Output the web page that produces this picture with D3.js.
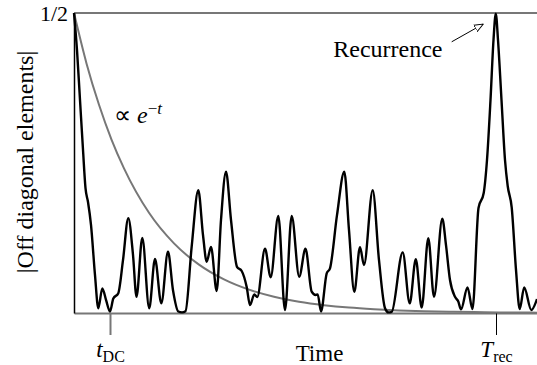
<!DOCTYPE html>
<html>
<head>
<meta charset="utf-8">
<script src="https://cdn.jsdelivr.net/npm/d3@7"></script>
<style>
  body{margin:0;background:#fff;}
  text{font-family:"Liberation Serif","Times New Roman",serif;fill:#000;}
</style>
</head>
<body>
<div id="chart"></div>
<script>
// |off diagonal| curve
var time = [0,0.06,0.12,0.18,0.23,0.28,0.34,0.42,0.486,0.566,0.64,0.72,0.786,0.886,0.98,1.086,1.18,1.25,1.366,1.504,
  1.62,1.746,1.88,1.98,2.086,2.16,2.23,2.354,2.486,2.58,2.654,2.74,2.854,2.94,3.04,3.14,3.26,3.354,3.454,3.52,
  3.606,3.666,3.82,3.934,4.086,4.22,4.354,4.504,4.63,4.754,4.834,4.874,4.94,5.054,5.12,5.26,5.406,5.5,5.606,5.72,
  5.8,5.974,6.1,6.22,6.29,6.354,6.574,6.714,6.836,6.954,7.086,7.2,7.366,7.44,7.52,7.62,7.686,7.74,7.87,7.97,
  8.09,8.194,8.26,8.33,8.39,8.436,8.48,8.55,8.62,8.674,8.754,8.84,8.914,9.004,9.146,9.26];
var offDiag = [0.5,0.438,0.355,0.272,0.208,0.185,0.147,0.063,0.008,0.041,0.022,0.0025,0.024,0.033,0.088,0.158,0.097,0.027,0.125,0.008,
  0.090,0.016,0.102,0.038,0.0025,0.001,0.003,0.111,0.2045,0.13,0.0855,0.11,0.0367,0.155,0.2355,0.155,0.077,0.07,0.0433,0.0133,
  0.031,0.0267,0.107,0.0595,0.1617,0.005,0.1617,0.0605,0.107,0.0355,0.03,0.031,0.0025,0.066,0.0745,0.163,0.2355,0.138,0.0355,0.1095,
  0.08,0.2045,0.088,0.008,0.001,0.002,0.101,0.016,0.0895,0.009,0.1245,0.027,0.157,0.113,0.055,0.027,0.019,0.006,0.0425,0.0067,
  0.175,0.2,0.255,0.355,0.455,0.499,0.455,0.355,0.255,0.2117,0.176,0.072,0.0067,0.0425,0.005,0.0233];

// decay envelope
var expTime = [0,0.25,0.5,0.75,1,1.5,2,2.5,3,3.5,4,4.5,5,5.5,6,6.5,7,7.5,8,8.5,9,9.26];
var expValue = [0.5,0.416,0.347,0.289,0.241,0.167,0.116,0.0806,0.056,0.0389,0.027,0.0187,0.013,0.009,0.0063,0.0043,0.003,0.0021,0.0015,0.001,0.0007,0.0006];

var tickTimes = [0.72, 8.44];
var tickMain = ["t", "T"];
var tickSub = ["DC", "rec"];
var yTicks = [0.5];
var yTickLabels = ["1/2"];

var serif = "'Liberation Serif', 'Times New Roman', serif";

var W = 537, H = 365;
var margin = {top: 13, right: 0, bottom: 52, left: 74},
    width = W - margin.left - margin.right,
    height = H - margin.top - margin.bottom;

var svg = d3.select("#chart").append("svg")
    .attr("width", W)
    .attr("height", H)
    .attr("font-family", serif);

svg.append("defs").append("marker")
    .attr("id", "arrow")
    .attr("viewBox", "0 0 10 10")
    .attr("refX", 10).attr("refY", 5)
    .attr("markerWidth", 9).attr("markerHeight", 9)
    .attr("markerUnits", "userSpaceOnUse")
    .attr("orient", "auto")
  .append("path")
    .attr("d", "M0,1 L10,5 L0,9 Z")
    .attr("fill", "#fff")
    .attr("stroke", "#000")
    .attr("stroke-width", 1);

var g = svg.append("g").attr("transform", "translate(" + margin.left + "," + margin.top + ")");

var x = d3.scaleLinear().domain([0, 9.26]).range([0, width]);
var y = d3.scaleLinear().domain([0, 0.5]).range([height, 0]);

// top frame line
g.append("line")
    .attr("x1", x(0)).attr("x2", x(9.26))
    .attr("y1", y(0.5)).attr("y2", y(0.5))
    .attr("stroke", "#777").attr("stroke-width", 2);

// bottom axis
var xAx = g.append("g")
    .attr("transform", "translate(0," + height + ")")
    .call(d3.axisBottom(x).tickValues(tickTimes).tickFormat("").tickSize(22).tickSizeOuter(0));
xAx.select(".domain").attr("stroke", "#777").attr("stroke-width", 2);
xAx.selectAll(".tick line")
    .attr("stroke", function(d, i){ return i == 0 ? "#777" : "#000"; })
    .attr("stroke-width", function(d, i){ return i == 0 ? 2 : 1; });
xAx.selectAll(".tick").each(function(d, i){
  var t = d3.select(this).append("text")
      .attr("y", 44)
      .attr("text-anchor", "middle")
      .attr("fill", "#000")
      .style("font-family", serif)
      .style("font-size", "23px");
  t.append("tspan").style("font-style", "italic").text(tickMain[i]);
  t.append("tspan").attr("dy", 5).style("font-size", "16px").text(tickSub[i]);
});

// exponential envelope
g.append("path")
    .datum(expTime)
    .attr("d", d3.line()
      .x(function(d){ return x(d); })
      .y(function(d, i){ return y(expValue[i]); })
      .curve(d3.curveMonotoneX))
    .attr("fill", "none")
    .attr("stroke", "#777")
    .attr("stroke-width", 2);

// off diagonal
g.append("path")
    .datum(time)
    .attr("d", d3.line()
      .x(function(d){ return x(d); })
      .y(function(d, i){ return y(offDiag[i]); })
      .curve(d3.curveMonotoneX))
    .attr("fill", "none")
    .attr("stroke", "#000")
    .attr("stroke-width", 2.4)
    .attr("stroke-linejoin", "round");

// left axis
var yAx = g.append("g")
    .call(d3.axisLeft(y).tickValues(yTicks).tickSize(0).tickSizeOuter(0).tickPadding(6)
      .tickFormat(function(d, i){ return yTickLabels[i]; }));
yAx.attr("font-family", serif);
yAx.select(".domain").attr("stroke", "#000").attr("stroke-width", 1.5);
yAx.selectAll(".tick text")
    .attr("fill", "#000")
    .style("font-family", serif)
    .style("font-size", "22px");

// labels
g.append("text")
    .attr("transform", "translate(-41," + (height / 2 - 1) + ") rotate(-90)")
    .attr("text-anchor", "middle")
    .style("font-family", serif)
    .style("font-size", "24px")
    .text("|Off diagonal elements|");

g.append("text")
    .attr("x", width / 2 + 14)
    .attr("y", height + 48)
    .attr("text-anchor", "middle")
    .style("font-family", serif)
    .style("font-size", "23px")
    .text("Time");

var prop = g.append("text")
    .attr("x", x(0.8))
    .attr("y", y(0.317))
    .style("font-family", serif)
    .style("font-size", "24px");
prop.append("tspan").text("\u221D ");
prop.append("tspan").style("font-style", "italic").text("e");
prop.append("tspan").attr("dy", -9).style("font-size", "17px").text("\u2212");
prop.append("tspan").style("font-size", "17px").style("font-style", "italic").text("t");

g.append("text")
    .attr("x", x(7.37))
    .attr("y", y(0.427))
    .attr("text-anchor", "end")
    .style("font-family", serif)
    .style("font-size", "24px")
    .text("Recurrence");

g.append("line")
    .attr("x1", x(7.554)).attr("y1", y(0.452))
    .attr("x2", x(8.186)).attr("y2", y(0.4817))
    .attr("stroke", "#000")
    .attr("stroke-width", 1)
    .attr("marker-end", "url(#arrow)");
</script>
</body>
</html>
